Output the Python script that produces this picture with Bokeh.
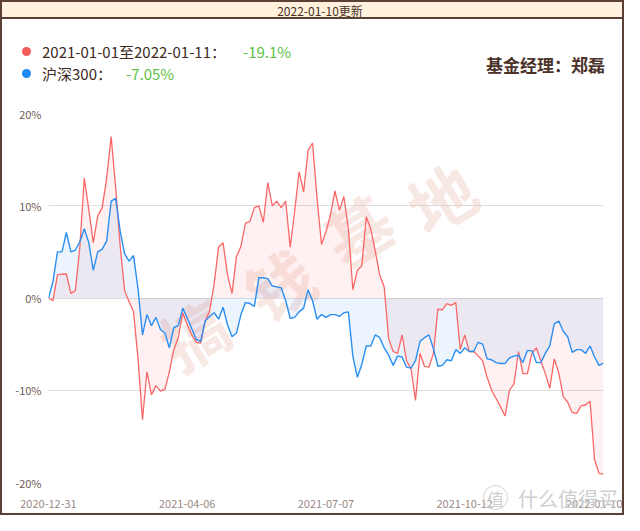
from bokeh.plotting import figure
from bokeh.models import FixedTicker, PrintfTickFormatter, Label, Div
from bokeh.layouts import column
from bokeh.embed import file_html
from bokeh.resources import INLINE

# trading-day index (every second session), 2020-12-31 .. 2022-01-10
idx = list(range(0, 249, 2))

fund = [0, -0.3, 2.5, 2.6, 2.6, 0.5, 0.8, 5.5, 13.0, 9.6,
        6.0, 8.9, 9.8, 13.0, 17.5, 12.0, 5.7, 0.8, -0.4, -1.5,
        -6.6, -13.2, -8.0, -10.5, -9.5, -10.1, -9.9, -8.0, -5.6, -4.3,
        -1.6, -2.9, -4.0, -4.8, -4.9, -2.5, -1.4, 1.5, 5.5, 6.0,
        2.5, 0.5, 4.5, 5.6, 8.1, 8.3, 9.8, 10.0, 8.2, 12.5,
        10.0, 10.5, 9.8, 10.5, 5.5, 9.4, 13.7, 11.5, 16.0, 16.8,
        10.8, 5.8, 7.2, 9.0, 11.6, 9.5, 11.0, 7.5, 0.9, 3.0,
        3.5, 8.8, 7.5, 5.1, 2.5, 1.2, -4.4, -5.8, -6.0, -4.0,
        -6.8, -7.7, -11.1, -6.0, -7.4, -7.5, -6.0, -1.2, -1.3, -0.6,
        -0.8, -0.5, -5.6, -4.0, -5.8, -5.8, -6.3, -6.8, -8.6, -10.0,
        -10.9, -11.8, -12.8, -10.0, -9.3, -5.8, -8.2, -8.2, -6.0, -5.4,
        -6.8, -8.2, -9.8, -6.6, -8.1, -10.7, -11.3, -12.4, -12.5, -11.7,
        -11.6, -11.2, -17.5, -19.0, -19.1]

hs300 = [0, 1.8, 5.0, 5.0, 7.1, 5.0, 5.2, 6.1, 7.5, 6.0,
         3.0, 5.0, 5.3, 6.2, 10.5, 10.8, 7.3, 4.8, 4.0, 4.6,
         1.0, -4.0, -1.8, -3.0, -2.1, -3.4, -3.8, -5.4, -3.2, -3.0,
         -1.1, -2.2, -3.3, -4.5, -4.7, -2.5, -2.0, -1.6, -2.3, -1.0,
         -2.9, -4.2, -3.8, -1.8, -0.5, -0.6, -0.9, 2.2, 2.2, 2.1,
         1.3, 1.2, 1.1, -0.3, -2.2, -2.1, -1.5, -1.1, 0.9, -0.3,
         -2.3, -1.8, -2.1, -1.8, -1.8, -2.0, -1.6, -1.5, -6.3, -8.6,
         -7.2, -5.2, -5.2, -4.0, -4.3, -5.4, -6.2, -7.3, -6.3, -6.4,
         -7.5, -7.6, -6.8, -4.7, -4.3, -4.0, -5.5, -7.4, -7.3, -6.7,
         -6.8, -5.6, -6.0, -5.4, -5.8, -5.8, -4.8, -5.0, -6.6, -6.7,
         -7.0, -7.1, -7.1, -6.5, -6.3, -6.2, -7.0, -5.7, -5.7, -7.0,
         -7.0, -6.0, -5.2, -2.8, -2.5, -3.6, -4.2, -5.9, -5.6, -5.6,
         -6.0, -5.2, -6.4, -7.3, -7.05]

x_tick_pos = [0, 62, 124, 186, 248]
x_tick_labels = ["2020-12-31", "2021-04-06", "2021-07-07", "2021-10-12", "2022-01-10"]
y_ticks = [-20, -10, 0, 10, 20]

header_text = "2022-01-10更新"
legend_fund = "2021-01-01至2022-01-11："
legend_fund_val = "-19.1%"
legend_hs = "沪深300："
legend_hs_val = "-7.05%"
manager = "基金经理：郑磊"
watermark = ["搞", "钱", "基", "地"]
site_mark = ["值", "什么值得买"]

RED = "#fb6767"
BLUE = "#2b8ff2"
BROWN = "#5b4036"
TXT = "#3e2a22"
GREEN = "#5cc13f"
FONT = "Noto Sans CJK SC"

# ---------------- header (title bar + legend) ----------------
header_html = f"""
<div style="position:relative;width:620px;height:94px;font-family:'{FONT}';">
  <div style="position:absolute;left:0;top:0;width:620px;height:17px;background:#fff1dc;
              border-bottom:2px solid {BROWN};"></div>
  <div style="position:absolute;left:318px;top:0;transform:translateX(-50%);font-size:12px;
              line-height:17px;color:#4a3229;white-space:nowrap;">{header_text}</div>
  <div style="position:absolute;left:20px;top:45px;width:9px;height:9px;border-radius:50%;background:#f55b5b;"></div>
  <div style="position:absolute;left:20px;top:67px;width:9px;height:9px;border-radius:50%;background:#1e8af5;"></div>
  <div style="position:absolute;left:40px;top:40px;font-size:15px;line-height:20px;color:{TXT};white-space:nowrap;">{legend_fund}</div>
  <div style="position:absolute;left:241px;top:40px;font-size:15px;line-height:20px;color:{GREEN};white-space:nowrap;">{legend_fund_val}</div>
  <div style="position:absolute;left:40px;top:62px;font-size:15px;line-height:20px;color:{TXT};white-space:nowrap;">{legend_hs}</div>
  <div style="position:absolute;left:124px;top:62px;font-size:15px;line-height:20px;color:{GREEN};white-space:nowrap;">{legend_hs_val}</div>
  <div style="position:absolute;right:17px;top:52px;font-size:17px;line-height:22px;font-weight:bold;color:#4a3229;white-space:nowrap;">{manager}</div>
</div>
"""
header = Div(text=header_html, width=620, height=94, margin=(0, 0, 0, 0))

# ---------------- chart ----------------
p = figure(frame_width=555, frame_height=369,
           min_border_left=46, min_border_right=19,
           min_border_top=17, min_border_bottom=31,
           x_range=(0, 248), y_range=(-20, 20),
           output_backend="svg", toolbar_location=None,
           background_fill_color="white", border_fill_color="white",
           outline_line_color=None)

wm_pos = [(191, 236), (276, 186), (355, 132), (438, 100)]
for ch, (cx, cy) in zip(watermark, wm_pos):
    p.add_layout(Label(x=cx, y=cy, x_units="canvas", y_units="canvas", text=ch,
                       text_font=FONT, text_font_size="66px", text_font_style="bold",
                       text_color="#e9b8aa", text_alpha=0.32, angle=0.55,
                       text_align="center", text_baseline="middle", level="underlay"))

p.varea(x=idx, y1=0, y2=fund, fill_color=RED, fill_alpha=0.09)
p.varea(x=idx, y1=0, y2=hs300, fill_color=BLUE, fill_alpha=0.09)
p.line(idx, fund, line_color=RED, line_width=1.3)
p.line(idx, hs300, line_color=BLUE, line_width=1.4)

p.xgrid.visible = False
p.ygrid.grid_line_color = "#dedede"
p.ygrid.grid_line_width = 1

p.yaxis.ticker = FixedTicker(ticks=y_ticks)
p.yaxis.formatter = PrintfTickFormatter(format="%d%%")
p.xaxis.ticker = FixedTicker(ticks=x_tick_pos)
p.xaxis.major_label_overrides = {pos: lab for pos, lab in zip(x_tick_pos, x_tick_labels)}
for ax in (p.xaxis, p.yaxis):
    ax.axis_line_color = None
    ax.major_tick_line_color = None
    ax.minor_tick_line_color = None
    ax.major_tick_out = 0
    ax.major_tick_in = 0
    ax.minor_tick_out = 0
    ax.minor_tick_in = 0
    ax.major_label_text_font = FONT
    ax.major_label_text_font_size = "11px"
p.xaxis.major_label_text_color = "#9a8a84"
p.yaxis.major_label_text_color = "#6f5d56"
p.yaxis.major_label_standoff = 7
p.xaxis.major_label_standoff = 17

# ---------------- site stamp overlapping the bottom edge ----------------
footer_html = f"""
<div style="position:relative;width:620px;height:38px;overflow:hidden;font-family:'{FONT}';color:#cfcfcf;">
  <div style="position:absolute;left:481px;top:10px;width:25px;height:25px;border:1.5px solid #d4d4d4;
              border-radius:50%;text-align:center;font-size:17px;line-height:25px;">{site_mark[0]}</div>
  <div style="position:absolute;left:516px;top:12px;font-size:20px;line-height:24px;white-space:nowrap;">{site_mark[1]}</div>
</div>
"""
footer = Div(text=footer_html, width=620, height=38, margin=(-38, 0, 0, 0),
             styles={"position": "relative", "z-index": "2"})

layout = column(header, p, footer, spacing=0,
                styles={"border": f"2px solid {BROWN}", "background": "white"})

open("out.html", "w").write(file_html(layout, INLINE))
